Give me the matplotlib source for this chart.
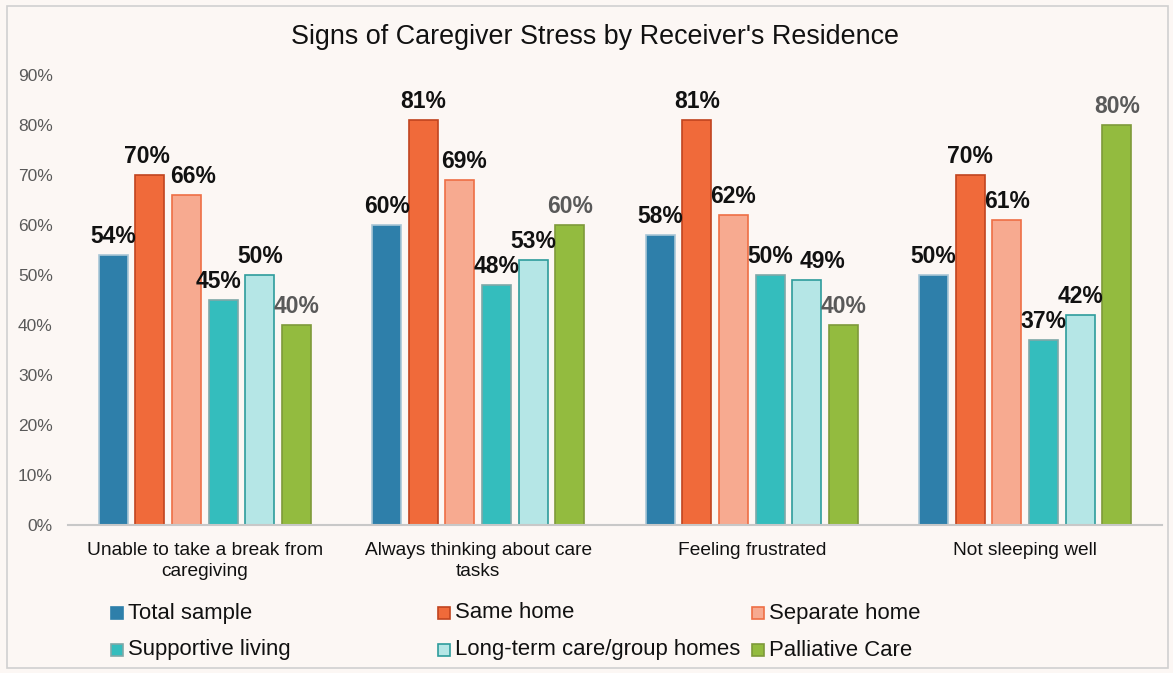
import matplotlib
matplotlib.use("Agg")
import matplotlib.pyplot as plt
from matplotlib.patches import Rectangle
import numpy as np

plt.rcParams['font.family'] = ['Liberation Sans', 'DejaVu Sans']

categories = ["Unable to take a break from\ncaregiving", "Always thinking about care\ntasks",
              "Feeling frustrated", "Not sleeping well"]
series_names = ["Total sample", "Same home", "Separate home",
                "Supportive living", "Long-term care/group homes", "Palliative Care"]
total_sample = [54, 60, 58, 50]
same_home = [70, 81, 81, 70]
separate_home = [66, 69, 62, 61]
supportive_living = [45, 48, 50, 37]
long_term_care = [50, 53, 49, 42]
palliative_care = [40, 60, 40, 80]
series_values = [total_sample, same_home, separate_home, supportive_living, long_term_care, palliative_care]
yticks = [0, 10, 20, 30, 40, 50, 60, 70, 80, 90]

face_colors = ["#2E7FAA", "#F06A3A", "#F7AA90", "#34BDBD", "#B5E6E6", "#93BB3F"]
edge_colors = ["#A9C6D6", "#C0441F", "#EE6F45", "#7FA8A8", "#2E9C9C", "#7E9A3A"]
label_colors = ["#111111"] * 5 + ["#595959"]
# horizontal nudges (points) for crowded data labels: (series index, category index) -> dx
label_nudge = {(3, 0): -3, (2, 0): 5, (4, 2): 11, (2, 1): 3, (1, 0): -2}

bg = "#FCF7F4"
fig = plt.figure(figsize=(11.73, 6.73), dpi=100, facecolor=bg)
ax = fig.add_axes([68/1173, 1-525/673, (1162-68)/1173, 450/673])
ax.set_facecolor(bg)

x = np.arange(len(categories))
step = 0.134
width = 0.106
for i, (vals, fc, ec, lc) in enumerate(zip(series_values, face_colors, edge_colors, label_colors)):
    pos = x + (i - 2.5) * step
    bars = ax.bar(pos, vals, width=width, color=fc, edgecolor=ec, linewidth=1.2)
    for j, (b, v) in enumerate(zip(bars, vals)):
        ax.annotate(f"{v}%", (b.get_x() + b.get_width()/2, v),
                    xytext=(label_nudge.get((i, j), 0), 5),
                    textcoords="offset points", ha="center", va="bottom",
                    fontsize=16.5, fontweight="bold", color=lc)

ax.set_xlim(-0.5, 3.5)
ax.set_ylim(0, 90)
ax.set_yticks(yticks)
ax.set_yticklabels([f"{t}%" for t in yticks], color="#595959", fontsize=12.5)
ax.set_xticks(x)
ax.set_xticklabels(categories, fontsize=13.8, color="#111111", linespacing=1.3)
ax.tick_params(axis="both", length=0)
ax.tick_params(axis="y", pad=11)
ax.tick_params(axis="x", pad=12)
for s in ["top", "right", "left"]:
    ax.spines[s].set_visible(False)
ax.spines["bottom"].set_color("#C8C8C8")
ax.spines["bottom"].set_linewidth(1.5)

fig.text(595/1173, 1-37/673, "Signs of Caregiver Stress by Receiver's Residence",
         ha="center", va="center", fontsize=19.4, color="#111111")

# legend
col_x = [111, 438, 752]
row_y = [613, 650]
for i, name in enumerate(series_names):
    r, c = divmod(i, 3)
    mx = col_x[c]
    my = row_y[r]
    fig.patches.append(Rectangle((mx/1173, 1-(my+6)/673), 12/1173, 12/673,
                                 transform=fig.transFigure, facecolor=face_colors[i],
                                 edgecolor=edge_colors[i] if i != 0 else face_colors[i], linewidth=1.2))
    fig.text((mx+17)/1173, 1-my/673, name, ha="left", va="center", fontsize=15.9, color="#111111")

# outer border
fig.patches.append(Rectangle((7/1173, 1-668/673), 1161/1173, 662/673, transform=fig.transFigure,
                             facecolor="none", edgecolor="#D0D0D0", linewidth=1.2))

fig.savefig("out.png", dpi=100, facecolor=bg)
